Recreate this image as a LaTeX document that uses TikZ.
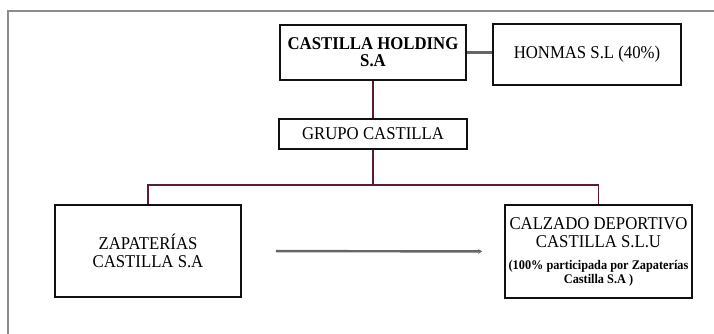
\documentclass[tikz,border=0pt]{standalone}
\usepackage{fontspec}
\setmainfont[FakeStretch=0.93]{Liberation Serif}
\usetikzlibrary{calc,arrows.meta}
\definecolor{ink}{HTML}{111111}
\definecolor{framec}{HTML}{8C8C8C}
\definecolor{orgline}{HTML}{5A1F2E}
\definecolor{linkc}{HTML}{666666}

\begin{document}
\begin{tikzpicture}[x=0.75pt, y=-0.75pt,
  orgbox/.style={draw=ink, line width=1.2pt, align=center, inner sep=1pt,
    font=\fontsize{13.5}{13.5}\selectfont},
  orglink/.style={draw=orgline, line width=1.3pt},
  sidelink/.style={draw=linkc, line width=2.2pt}]

\def\note{\fontsize{9.9}{9.5}\selectfont\bfseries}

\useasboundingbox (0,0) rectangle (714,334);
\draw[framec, line width=1.5pt] (8,334) -- (8,11) -- (714,11);

\node[orgbox, minimum width=139.5pt, minimum height=41.25pt,
      font=\fontsize{13.5}{13}\selectfont\bfseries]
  (holding) at (373,52.5) {CASTILLA HOLDING\\S.A};
\node[orgbox, minimum width=141pt, minimum height=45.75pt]
  (honmas) at (587,54.5) {HONMAS S.L (40\%)};
\node[orgbox, minimum width=141pt, minimum height=22.5pt]
  (grupo) at (373,134) {GRUPO CASTILLA};
\node[orgbox, minimum width=139.5pt, minimum height=69pt]
  (zap) at (148,251) {ZAPATERÍAS\\CASTILLA S.A};
\node[orgbox, minimum width=140.25pt, minimum height=69.75pt]
  (calz) at (598.5,251.5)
  {CALZADO DEPORTIVO\\CASTILLA S.L.U\\[3pt]
   \note (100\% participada por Zapaterías\\[-3pt]
   \note Castilla S.A )};

% ownership lines
\coordinate (bar) at (373,185);
\draw[orglink] (holding) -- (grupo);
\draw[orglink] (grupo.south) -- (bar);
\draw[orglink] (zap.north) -- (zap.north |- bar) -- (calz.north |- bar)
  -- (calz.north);

\draw[sidelink] (holding.east) -- (holding.east -| honmas.west);
\draw[linkc, line width=1.8pt, -{Stealth[length=3pt,width=3.5pt]},
      shorten <=25.5pt, shorten >=16.5pt] (zap.east) -- (calz.west);

\end{tikzpicture}
\end{document}
